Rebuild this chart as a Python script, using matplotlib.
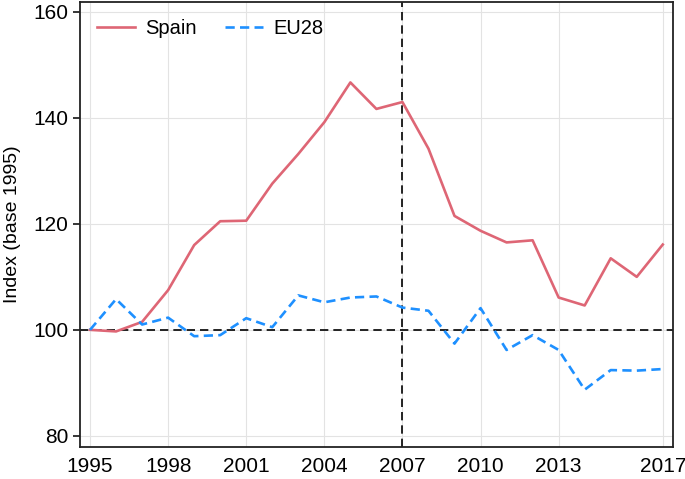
import matplotlib
matplotlib.use('Agg')
import matplotlib.pyplot as plt

years = list(range(1995, 2018))
spain = [100, 99.7, 101.5, 107.5, 116, 120.5, 120.6, 127.6, 133.2, 139.2,
         146.7, 141.7, 143.0, 134.2, 121.5, 118.7, 116.5, 116.9, 106.1, 104.6,
         113.5, 110.0, 116.1]
eu28 = [100, 105.8, 101.0, 102.3, 98.8, 99.0, 102.2, 100.5, 106.5, 105.2,
        106.1, 106.3, 104.2, 103.6, 97.4, 104.1, 96.2, 99.0, 96.2, 88.7,
        92.4, 92.3, 92.6]
xticks = [1995, 1998, 2001, 2004, 2007, 2010, 2013, 2017]
yticks = [80, 100, 120, 140, 160]

plt.rcParams['font.family'] = ['Liberation Sans', 'DejaVu Sans']

fig = plt.figure(figsize=(6.85, 4.79), dpi=100)
ax = fig.add_axes([0.117, 0.067, 0.865, 0.929])

ax.plot(years, spain, color='#DE6675', linewidth=1.9, label='Spain')
ax.plot(years, eu28, color='#1E90FF', linewidth=1.9, linestyle=(0, (3.5, 2)), label='EU28')

ax.axhline(100, color='black', linewidth=1.2, linestyle=(0, (5, 3)), zorder=1)
ax.axvline(2007, color='black', linewidth=1.2, linestyle=(0, (5, 3)), zorder=1)

ax.set_xlim(1994.62, 2017.38)
ax.set_ylim(77.9, 161.9)
ax.set_xticks(xticks)
ax.set_yticks(yticks)
ax.grid(True, color='#E3E3E3', linewidth=0.8, zorder=0)
ax.set_axisbelow(True)

for s in ax.spines.values():
    s.set_linewidth(1.3)
    s.set_color('#222222')

ax.tick_params(axis='y', direction='out', length=5, width=1.1, pad=3.5, labelsize=15)
ax.tick_params(axis='x', length=0, pad=7, labelsize=15)
ax.set_ylabel('Index (base 1995)', fontsize=14, labelpad=8.5)

ax.legend(loc='upper left', ncol=2, frameon=False, fontsize=14.5,
          handlelength=1.85, handletextpad=0.55, columnspacing=1.4,
          borderaxespad=0.45)

fig.savefig('out.png', dpi=100)
